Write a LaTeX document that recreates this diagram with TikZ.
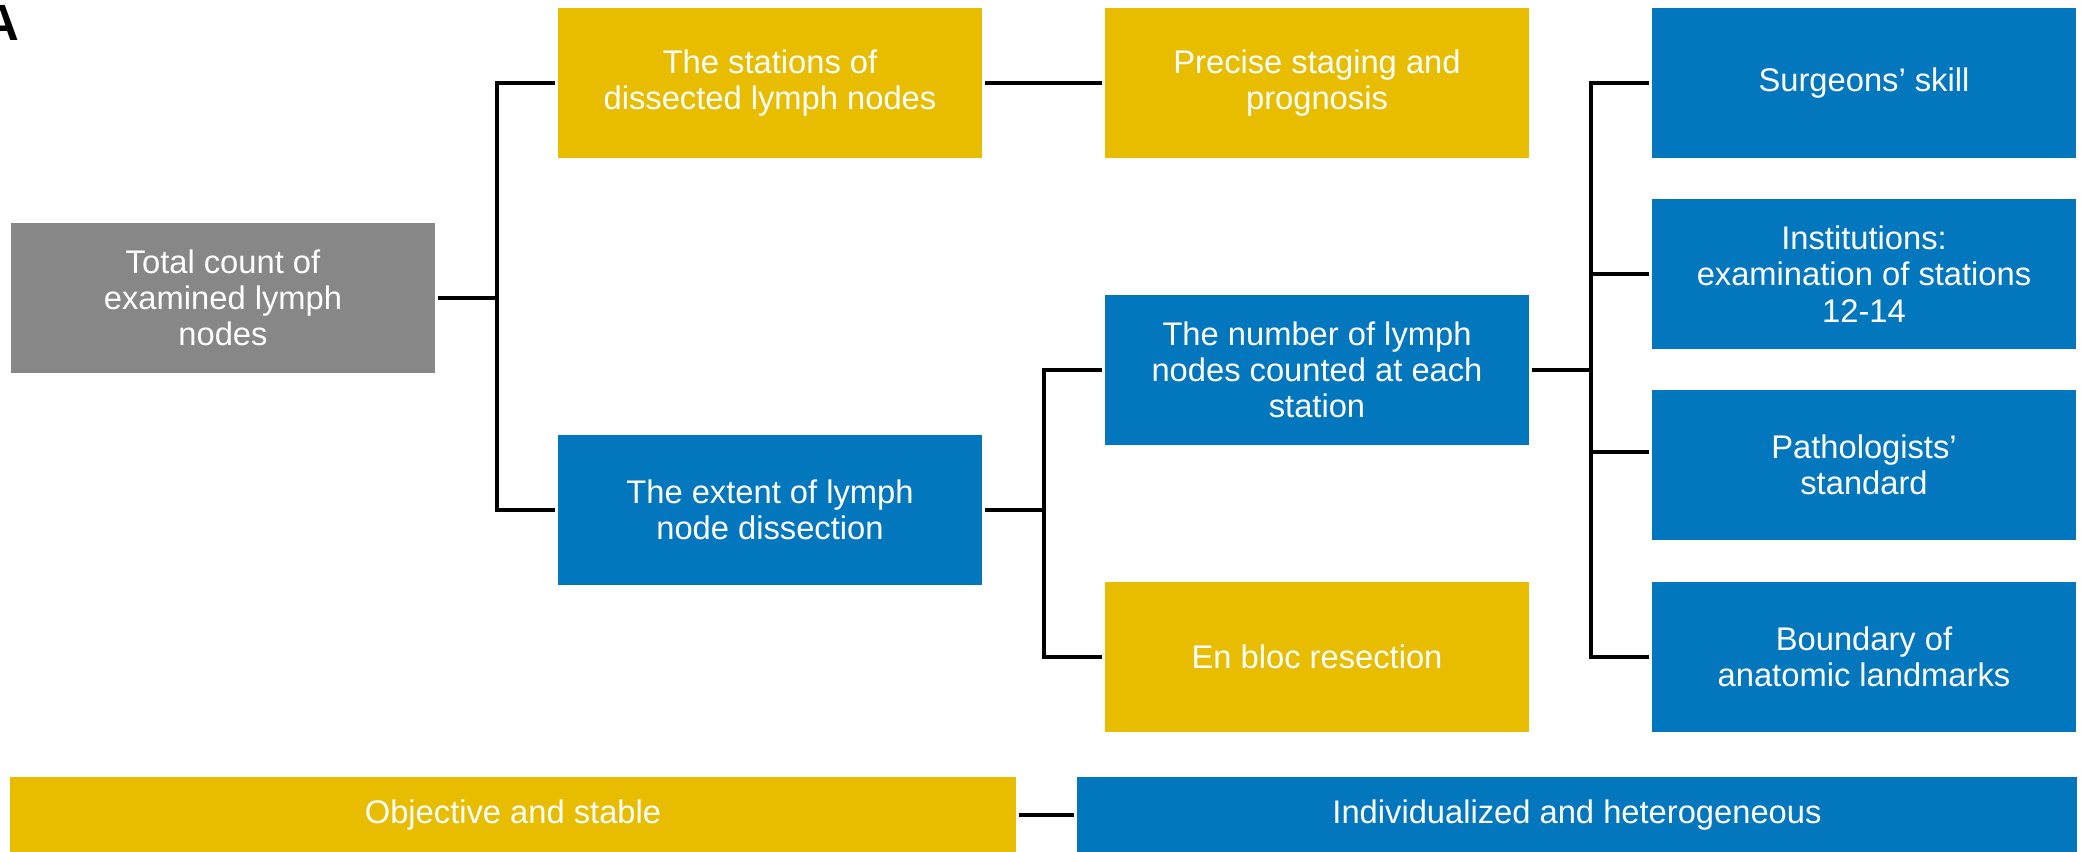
\documentclass[tikz,border=0pt]{standalone}
\usepackage{fontspec}
\setmainfont{Liberation Sans}
\usetikzlibrary{positioning}
\definecolor{boxyellow}{HTML}{E8BD00}
\definecolor{boxblue}{HTML}{0277BE}
\definecolor{boxgray}{HTML}{878787}

\begin{document}
\begin{tikzpicture}[x=0.01cm, y=-0.01cm, font=\fontsize{9.3}{10.3}\selectfont, line width=1.4pt]
      \tikzstyle{factor}=[rectangle, text=white, align=center, minimum width=4.24cm, minimum height=1.5cm, inner sep=0pt]
      \tikzstyle{fixed}=[factor, fill=boxyellow]
      \tikzstyle{varied}=[factor, fill=boxblue]
      \tikzstyle{bar}=[factor, minimum height=0.75cm]
      \useasboundingbox (0,0) rectangle (2081,852);
      \node[font=\fontsize{14.5}{16}\selectfont\bfseries, anchor=base east, inner sep=0pt] (panel) at (22,41) {A};
      % tree
      \node[factor, fill=boxgray] (total) at (223,298) {Total count of\\examined lymph\\nodes};
      \node[fixed] (stations) at (770,83) {The stations of\\dissected lymph nodes};
      \node[varied] (extent) at (770,510) {The extent of lymph\\node dissection};
      \node[fixed] (precise) at (1317,83) {Precise staging and\\prognosis};
      \node[varied] (number) at (1317,370) {The number of lymph\\nodes counted at each\\station};
      \node[fixed] (enbloc) at (1317,657) {En bloc resection};
      \node[varied] (surgeons) at (1864,83) {Surgeons’ skill};
      \node[varied] (institutions) at (1864,274) {Institutions:\\examination of stations\\12-14};
      \node[varied] (pathologists) at (1864,465) {Pathologists’\\standard};
      \node[varied] (boundary) at (1864,657) {Boundary of\\anatomic landmarks};
      % legend bars
      \node[bar, fill=boxyellow, minimum width=10.06cm] (objective) at (513,815) {Objective and stable};
      \node[bar, fill=boxblue, minimum width=10cm] (individual) at (1577,815) {Individualized and heterogeneous};
      \coordinate (j1) at (497,0);
      \coordinate (j2) at (1044,0);
      \coordinate (j3) at (1591,0);
      \draw (total.east) -- (total.east -| j1) |- (stations.west);
      \draw (total.east -| j1) |- (extent.west);
      \draw (stations) -- (precise);
      \draw (extent.east) -- (extent.east -| j2) |- (number.west);
      \draw (extent.east -| j2) |- (enbloc.west);
      \draw (number.east) -- (number.east -| j3);
      \foreach \n in {surgeons, institutions, boundary}
        \draw (number.east -| j3) |- (\n.west);
      \draw (number.east -| j3) |- ([yshift=0.13cm]pathologists.west);
      \draw (objective) -- (individual);
    \end{tikzpicture}
\end{document}
